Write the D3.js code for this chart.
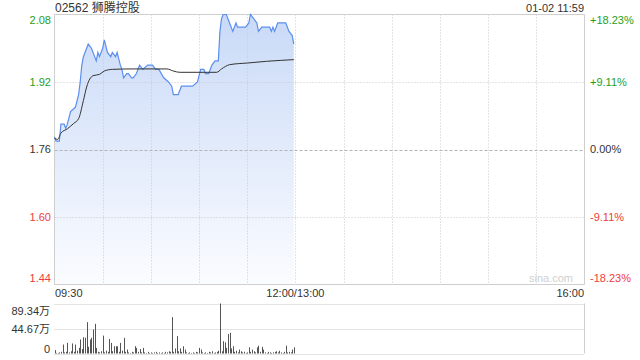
<!DOCTYPE html>
<meta charset="utf-8">
<style>
body { margin: 0; background: #fff; }
text { font-family: Arial, "Liberation Sans", "Noto Sans CJK SC", sans-serif; }
</style>
<svg width="640" height="360"></svg>
<script src="https://d3js.org/d3.v7.min.js"></script>
<script>

// minutes since 09:30 (morning session only, 0..149)
var priceMin = [0,1,3,4,6,7,8,10,13,15,16,17,18,21,23,26,27,28,30,31,33,35,36,38,39,41,42,43,45,46,48,49,51,53,55,58,61,63,65,68,71,73,74,77,79,86,89,91,93,94,96,98,100,102,103,104,105,107,109,111,113,114,119,121,122,124,126,127,129,134,135,136,137,139,144,146,148,149];
var price = [1.79,1.78,1.78,1.82,1.82,1.81,1.82,1.85,1.86,1.89,1.92,1.96,1.98,2.01,2.00,1.97,1.99,1.98,2.00,2.02,1.99,1.98,1.99,1.98,1.99,1.96,1.95,1.93,1.94,1.94,1.93,1.93,1.94,1.96,1.95,1.96,1.96,1.95,1.95,1.93,1.92,1.91,1.89,1.89,1.91,1.91,1.92,1.95,1.95,1.94,1.94,1.96,1.97,1.97,2.04,2.07,2.08,2.08,2.06,2.04,2.06,2.05,2.05,2.06,2.08,2.07,2.06,2.04,2.05,2.05,2.04,2.05,2.04,2.06,2.06,2.04,2.03,2.01];

var avgMin = [0,2,4,8,12,15,18,20,24,28,31,36,49,70,74,78,101,104,109,120,132,149];
var avgPrice = [1.786,1.784,1.799,1.809,1.822,1.833,1.876,1.908,1.935,1.938,1.946,1.950,1.951,1.951,1.946,1.943,1.943,1.951,1.961,1.965,1.969,1.973];

// volume per minute, in 万 shares
var volume = [6,1,1,2,3,16,2,3,19,2,4,18,3,16,5,10,25,8,29,28,56,12,25,28,43,53,10,3,2,4,32,2,5,3,26,19,4,13,13,13,3,19,5,28,3,7,2,1,3,2,13,10,3,8,2,10,2,1,3,1,2,1,2,3,1,2,1,2,1,3,2,4,3,65,3,9,31,4,9,3,13,7,2,1,2,1,2,1,3,2,10,7,2,1,2,1,3,2,4,1,2,3,5,89.34,4,22,20,10,35,37,9,13,3,5,2,7,4,2,3,1,2,11,3,7,4,2,11,14,3,12,7,2,1,3,2,1,2,3,4,2,5,2,1,3,14,2,3,2,7,11];

var prevClose = 1.76;
var priceTicks = [2.08, 1.92, 1.76, 1.60, 1.44];
var pctLabels = ["+18.23%", "+9.11%", "0.00%", "-9.11%", "-18.23%"];
var volTicks = [89.34, 44.67, 0];
var volLabels = ["89.34万", "44.67万", "0"];
var timeTicks = [0, 150, 330];
var timeLabels = ["09:30", "12:00/13:00", "16:00"];
var gridMinutes = [30, 60, 90, 120, 150, 180, 210, 240, 270, 300];

var svg = d3.select("svg");
var pLeft = 54.5, pRight = 584.5, pTop = 14.5, pBottom = 284.5;
var vTop = 304.5, vBottom = 354.5;

var x = d3.scaleLinear().domain([0, 330]).range([pLeft, pRight]);
var y = d3.scaleLinear().domain([1.44, 2.08]).range([pBottom, pTop]);
var yv = d3.scaleLinear().domain([0, 89.34]).range([vBottom, vTop]);

var green = "#1ea01e", red = "#f03c3c", dark = "#333";
function tickColor(v) { return v > prevClose ? green : (v < prevClose ? red : dark); }

var defs = svg.append("defs");
var grad = defs.append("linearGradient")
    .attr("id", "fillGrad")
    .attr("gradientUnits", "userSpaceOnUse")
    .attr("x1", 0).attr("y1", pTop).attr("x2", 0).attr("y2", pBottom);
grad.append("stop").attr("offset", "0").attr("stop-color", "#c9daf7");
grad.append("stop").attr("offset", "1").attr("stop-color", "#fbfcff");

// title
svg.append("text")
    .attr("x", 55).attr("y", 12)
    .attr("font-size", "12px").attr("fill", dark)
    .text("02562 狮腾控股");

svg.append("text")
    .attr("x", 584).attr("y", 12)
    .attr("font-size", "11px").attr("fill", dark)
    .attr("text-anchor", "end")
    .text("01-02 11:59");

// price area + line
var pts = priceMin.map(function(m, i) { return [m, price[i]]; });

svg.append("path")
    .datum(pts)
    .attr("fill", "url(#fillGrad)")
    .attr("d", d3.area()
      .x(function(d) { return x(d[0]); })
      .y0(pBottom)
      .y1(function(d) { return y(d[1]); }));

// grid
svg.append("g")
  .selectAll("line")
  .data(gridMinutes)
  .enter().append("line")
    .attr("x1", function(d) { return Math.round(x(d)) + 0.5; })
    .attr("x2", function(d) { return Math.round(x(d)) + 0.5; })
    .attr("y1", pTop).attr("y2", pBottom)
    .attr("stroke", "#c8c8c8")
    .attr("stroke-dasharray", "1,2");

svg.append("g")
  .selectAll("line")
  .data(priceTicks.filter(function(d) { return d > 1.44 && d < 2.08; }))
  .enter().append("line")
    .attr("x1", pLeft).attr("x2", pRight)
    .attr("y1", function(d) { return Math.round(y(d)) + 0.5; })
    .attr("y2", function(d) { return Math.round(y(d)) + 0.5; })
    .attr("stroke", function(d) { return d === prevClose ? "#b4b4b4" : "#c8c8c8"; })
    .attr("stroke-dasharray", function(d) { return d === prevClose ? "3,2" : "1,2"; });

// frame
svg.append("path")
    .attr("d", "M" + pLeft + "," + pTop + "H" + pRight + "V" + pBottom + "H" + pLeft + "Z")
    .attr("fill", "none")
    .attr("stroke", "#cfcfcf");

svg.append("path")
    .datum(pts)
    .attr("fill", "none")
    .attr("stroke", "#5b8ef0")
    .attr("stroke-width", 1.2)
    .attr("d", d3.line()
      .x(function(d) { return x(d[0]); })
      .y(function(d) { return y(d[1]); }));

svg.append("path")
    .datum(avgMin.map(function(m, i) { return [m, avgPrice[i]]; }))
    .attr("fill", "none")
    .attr("stroke", "#333")
    .attr("stroke-width", 1)
    .attr("d", d3.line()
      .curve(d3.curveMonotoneX)
      .x(function(d) { return x(d[0]); })
      .y(function(d) { return y(d[1]); }));

// watermark
svg.append("text")
    .attr("x", 573).attr("y", 282)
    .attr("text-anchor", "end")
    .attr("font-size", "11px")
    .attr("fill", "#d0d0d0")
    .text("sina.com");

// price labels
svg.append("g")
  .selectAll("text")
  .data(priceTicks)
  .enter().append("text")
    .attr("x", 51)
    .attr("y", function(d) { return Math.max(20.5, Math.min(278.5, y(d))); })
    .attr("dy", "0.35em")
    .attr("text-anchor", "end")
    .attr("font-size", "11px")
    .attr("fill", tickColor)
    .text(function(d) { return d.toFixed(2); });

svg.append("g")
  .selectAll("text")
  .data(priceTicks)
  .enter().append("text")
    .attr("x", 590)
    .attr("y", function(d) { return Math.max(20.5, Math.min(278.5, y(d))); })
    .attr("dy", "0.35em")
    .attr("font-size", "11px")
    .attr("fill", tickColor)
    .text(function(d, i) { return pctLabels[i]; });

// time labels
svg.append("g")
  .selectAll("text")
  .data(timeTicks)
  .enter().append("text")
    .attr("x", function(d) { return d === 0 ? x(d) + 0.5 : (d === 330 ? x(d) - 0.5 : x(d)); })
    .attr("y", 297)
    .attr("text-anchor", function(d, i) { return i === 0 ? "start" : (i === 2 ? "end" : "middle"); })
    .attr("font-size", "11px")
    .attr("fill", dark)
    .text(function(d, i) { return timeLabels[i]; });

// volume panel
svg.append("g")
  .selectAll("line")
  .data(volTicks)
  .enter().append("line")
    .attr("x1", pLeft).attr("x2", pRight)
    .attr("y1", function(d) { return Math.round(yv(d)) - 0.5; })
    .attr("y2", function(d) { return Math.round(yv(d)) - 0.5; })
    .attr("stroke", "#c8c8c8")
    .attr("stroke-dasharray", "1,1");

svg.append("line")
    .attr("x1", pRight).attr("x2", pRight)
    .attr("y1", vTop - 1).attr("y2", vBottom - 1)
    .attr("stroke", "#cfcfcf");

svg.append("g")
  .selectAll("rect")
  .data(volume)
  .enter().append("rect")
    .attr("x", function(d, i) { return Math.round(x(i)); })
    .attr("width", 1)
    .attr("y", function(d) { return yv(d) - 1; })
    .attr("height", function(d) { return vBottom - yv(d); })
    .attr("fill", "#555");

svg.append("g")
  .selectAll("text")
  .data(volTicks)
  .enter().append("text")
    .attr("x", 50)
    .attr("y", function(d) { return Math.max(311, Math.min(349, yv(d))); })
    .attr("dy", "0.35em")
    .attr("text-anchor", "end")
    .attr("font-size", "11px")
    .attr("fill", dark)
    .text(function(d, i) { return volLabels[i]; });

</script>
